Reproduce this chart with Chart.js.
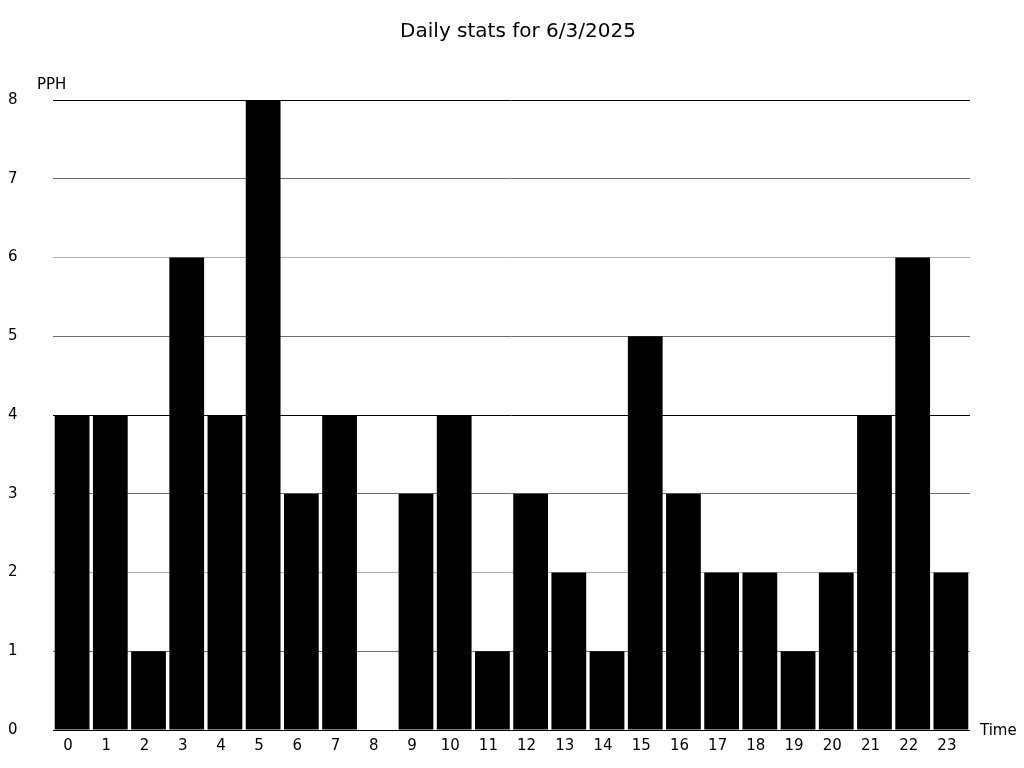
<!DOCTYPE html>
<html>
<head>
<meta charset="utf-8">
<style>
  html, body { margin: 0; padding: 0; background: #fff; }
  #wrap { width: 1024px; height: 768px; }
</style>
</head>
<body>
<div id="wrap"><canvas id="statsChart" width="1024" height="768"></canvas></div>

<script src="https://cdn.jsdelivr.net/npm/chart.js"></script>

<script>
  const chartTitle = 'Daily stats for 6/3/2025';
  const hours = ['0','1','2','3','4','5','6','7','8','9','10','11','12','13','14','15','16','17','18','19','20','21','22','23'];
  const pph = [4, 4, 1, 6, 4, 8, 3, 4, 0, 3, 4, 1, 3, 2, 1, 5, 3, 2, 2, 1, 2, 4, 6, 2];
  const yTicks = [0, 1, 2, 3, 4, 5, 6, 7, 8];

  // grid colour per value: black at 0/4/8, light at 2/6, mid grey otherwise
  function gridColor(v) {
    if (v % 4 === 0) return '#000';
    if (v % 2 === 0) return '#b0b0b0';
    return '#6e6e6e';
  }

  // title plus the axis captions "PPH" and "Time"
  const captions = {
    id: 'captions',
    afterDraw(chart) {
      const ctx = chart.ctx;
      const area = chart.chartArea;
      ctx.save();
      ctx.fillStyle = '#000';
      ctx.textBaseline = 'middle';
      ctx.textAlign = 'center';
      ctx.font = '20px "DejaVu Sans"';
      ctx.fillText(chartTitle, 518, 32);
      ctx.textAlign = 'left';
      ctx.font = '15px "DejaVu Sans"';
      ctx.fillText('PPH', 37, area.top - 15);
      ctx.fillText('Time', area.right + 10, area.bottom + 1);
      ctx.restore();
    }
  };

  const ctx = document.getElementById('statsChart').getContext('2d');
  new Chart(ctx, {
    type: 'bar',
    data: {
      labels: hours,
      datasets: [{
        label: 'PPH',
        data: pph,
        backgroundColor: '#000',
        borderWidth: 0,
        barPercentage: 0.91,
        categoryPercentage: 1
      }]
    },
    options: {
      responsive: false,
      animation: false,
      layout: { padding: { left: 8, right: 54, top: 100, bottom: 0 } },
      plugins: {
        legend: { display: false },
        tooltip: { enabled: false },
        title: { display: false }
      },
      scales: {
        x: {
          grid: { display: false, drawTicks: false },
          border: { display: false },
          ticks: {
            color: '#000',
            font: { family: 'DejaVu Sans', size: 15 },
            padding: 7,
            labelOffset: -4,
            maxRotation: 0,
            autoSkip: false
          },
          afterFit(scale) { scale.height = 38; }
        },
        y: {
          min: 0,
          max: 8,
          afterBuildTicks(scale) { scale.ticks = yTicks.map(v => ({ value: v })); },
          grid: {
            drawTicks: false,
            lineWidth: 1,
            color: c => gridColor(c.tick.value)
          },
          border: { display: false },
          ticks: {
            color: '#000',
            font: { family: 'DejaVu Sans', size: 15 },
            crossAlign: 'far',
            padding: 0
          },
          afterFit(scale) { scale.width = 45; }
        }
      }
    },
    plugins: [captions]
  });
</script>
</body>
</html>
